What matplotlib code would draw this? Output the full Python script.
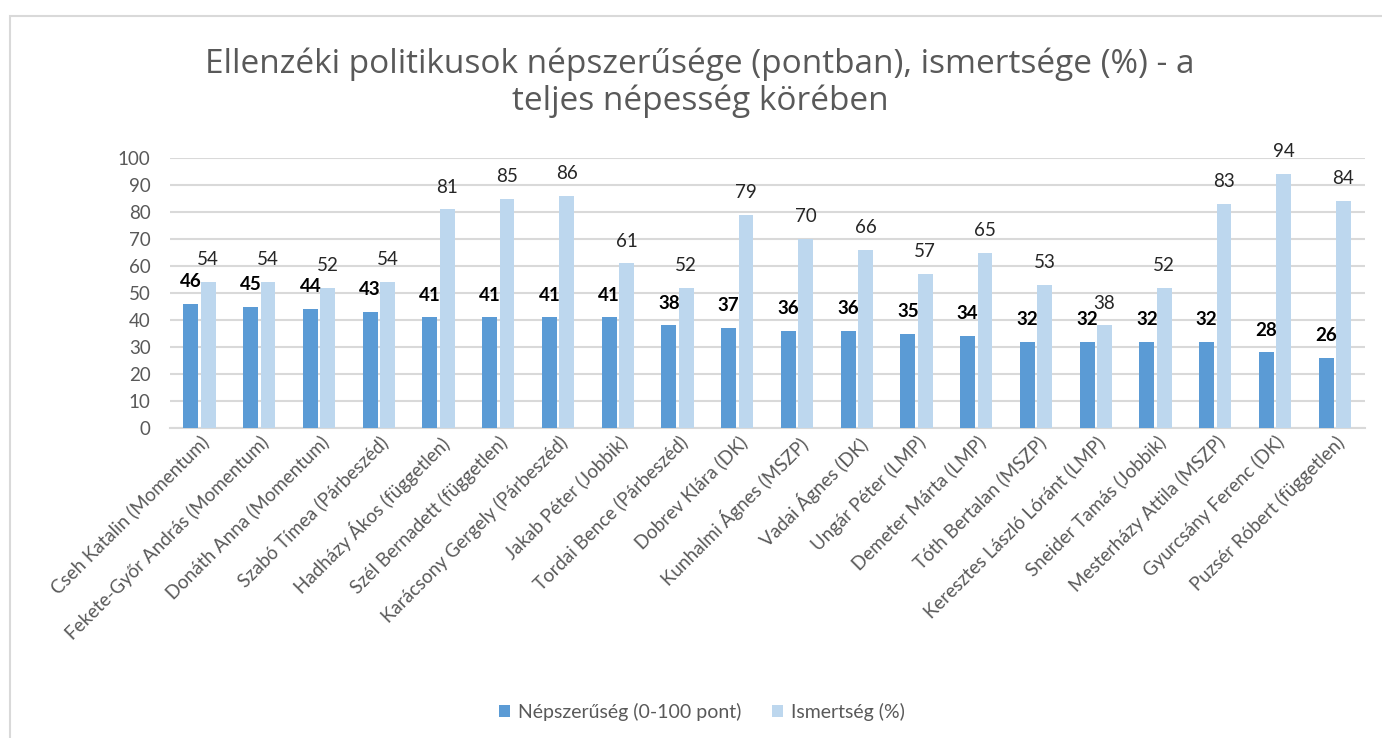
import numpy as np
import matplotlib.pyplot as plt
from matplotlib.patches import Rectangle

plt.rcParams['font.family'] = ['Lato', 'DejaVu Sans']

names = [
    "Cseh Katalin (Momentum)",
    "Fekete-Győr András (Momentum)",
    "Donáth Anna (Momentum)",
    "Szabó Tímea (Párbeszéd)",
    "Hadházy Ákos (független)",
    "Szél Bernadett (független)",
    "Karácsony Gergely (Párbeszéd)",
    "Jakab Péter (Jobbik)",
    "Tordai Bence (Párbeszéd)",
    "Dobrev Klára (DK)",
    "Kunhalmi Ágnes (MSZP)",
    "Vadai Ágnes (DK)",
    "Ungár Péter (LMP)",
    "Demeter Márta (LMP)",
    "Tóth Bertalan (MSZP)",
    "Keresztes László Lóránt (LMP)",
    "Sneider Tamás (Jobbik)",
    "Mesterházy Attila (MSZP)",
    "Gyurcsány Ferenc (DK)",
    "Puzsér Róbert (független)",
]
nepszeruseg = [46, 45, 44, 43, 41, 41, 41, 41, 38, 37, 36, 36, 35, 34, 32, 32, 32, 32, 28, 26]
ismertseg = [54, 54, 52, 54, 81, 85, 86, 61, 52, 79, 70, 66, 57, 65, 53, 38, 52, 83, 94, 84]

title = "Ellenzéki politikusok népszerűsége (pontban), ismertsége (%) - a\nteljes népesség körében"

dark = "#5B9BD5"
light = "#BDD7EE"
grey = "#595959"

fig = plt.figure(figsize=(13.82, 7.38), dpi=100)
# chart frame (only top and left edges are inside the picture)
fig.patches.append(Rectangle((10 / 1382, -0.1), 1.2, 1 - 16 / 738 + 0.1,
                             transform=fig.transFigure, fill=False,
                             edgecolor="#D9D9D9", lw=1.5))

ax = fig.add_axes([170 / 1382, 1 - 428 / 738, 1195 / 1382, 270 / 738])
x = np.arange(len(names))
w = 0.25
b1 = ax.bar(x - 0.15, nepszeruseg, w, color=dark, label="Népszerűség (0-100 pont)", zorder=3)
b2 = ax.bar(x + 0.14, ismertseg, w, color=light, label="Ismertség (%)", zorder=3)

for xi, v in zip(x, nepszeruseg):
    ax.annotate(str(v), (xi - 0.15, v), xytext=(0, 16), textcoords="offset points",
                ha="center", va="center", fontsize=13.5, fontweight="bold", color="black")
for xi, v in zip(x, ismertseg):
    ax.annotate(str(v), (xi + 0.14, v), xytext=(0, 16), textcoords="offset points",
                ha="center", va="center", fontsize=13.5, color="#262626")

ax.set_xlim(-0.5, len(names) - 0.5)
ax.set_ylim(0, 100)
ax.set_yticks(range(0, 101, 10))
ax.yaxis.grid(True, color="#D9D9D9", lw=1.5, zorder=0)
ax.set_axisbelow(True)
for s in ["top", "right", "left"]:
    ax.spines[s].set_visible(False)
ax.spines["bottom"].set_color("#D9D9D9")
ax.spines["bottom"].set_linewidth(1.5)
ax.tick_params(axis="both", length=0, colors=grey, labelsize=13.5)
ax.tick_params(axis="y", pad=14)
ax.set_xticks(x)
ax.set_xticklabels(names, rotation=45, ha="right", rotation_mode="anchor")

fig.text(0.5065, 1 - 83 / 738, title, ha="center", va="center", fontsize=24,
         color=grey, linespacing=1.15, family=["Open Sans", "DejaVu Sans"])

fig.legend(handles=[b1, b2], loc="center", bbox_to_anchor=(0.508, 1 - 712 / 738),
           ncol=2, frameon=False, fontsize=14, labelcolor=grey,
           handlelength=0.55, handleheight=0.55, handletextpad=0.4, columnspacing=1.6)

fig.savefig("out.png", dpi=100)
